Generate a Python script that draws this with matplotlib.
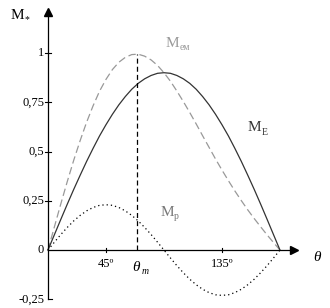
import matplotlib
matplotlib.use("Agg")
import matplotlib.pyplot as plt

# angle in degrees
theta = [0, 5, 10, 15, 20, 25, 30, 35, 40, 45, 50, 55, 60, 65, 70, 75, 80, 85, 90,
         95, 100, 105, 110, 115, 120, 125, 130, 135, 140, 145, 150, 155, 160, 165, 170, 175, 180]
m_e = [0, 0.078, 0.156, 0.233, 0.308, 0.38, 0.45, 0.516, 0.579, 0.636, 0.689, 0.737,
       0.779, 0.816, 0.846, 0.869, 0.886, 0.897, 0.9,
       0.897, 0.886, 0.869, 0.846, 0.816, 0.779, 0.737, 0.689, 0.636, 0.579, 0.516,
       0.45, 0.38, 0.308, 0.233, 0.156, 0.078, 0]
m_p = [0, 0.04, 0.079, 0.115, 0.148, 0.176, 0.199, 0.216, 0.227, 0.23, 0.227, 0.216,
       0.199, 0.176, 0.148, 0.115, 0.079, 0.04, 0,
       -0.04, -0.079, -0.115, -0.148, -0.176, -0.199, -0.216, -0.227, -0.23, -0.227,
       -0.216, -0.199, -0.176, -0.148, -0.115, -0.079, -0.04, 0]
m_em = [0, 0.118, 0.235, 0.348, 0.456, 0.556, 0.649, 0.732, 0.806, 0.866, 0.916, 0.953,
        0.978, 0.992, 0.994, 0.984, 0.965, 0.937, 0.9,
        0.857, 0.807, 0.754, 0.698, 0.64, 0.58, 0.521, 0.462, 0.406, 0.352, 0.3,
        0.251, 0.204, 0.16, 0.118, 0.077, 0.038, 0]
theta_m = 69
y_ticks = [-0.25, 0, 0.25, 0.5, 0.75, 1]
y_labels = ["-0,25", "0", "0,25", "0,5", "0,75", "1"]
x_ticks = [45, 135]
x_labels = ["45º", "135º"]

plt.rcParams['font.family'] = ['Liberation Serif', 'DejaVu Serif']

fig = plt.figure(figsize=(3.3, 3.08), dpi=100)
ax = fig.add_axes([0, 0, 1, 1])
ax.set_xlim(-37.2, 218.8)
ax.set_ylim(-0.294, 1.269)
ax.axis('off')

ax.plot(theta, m_em, color='#999999', lw=0.9, ls=(0, (6, 3)))
ax.plot(theta, m_e, color='#333333', lw=0.9)
ax.plot(theta, m_p, color='black', lw=0.9, ls=(0, (1, 2.4)))
ax.plot([theta_m, theta_m], [0, 0.994], color='black', lw=0.9, ls=(0, (4, 2.5)))

# axes with arrows
ax.plot([0, 0], [-0.25, 1.2], color='black', lw=0.9)
ax.plot([0], [1.21], marker='^', color='black', ms=6)
ax.plot([0, 190], [0, 0], color='black', lw=0.9)
ax.plot([191], [0], marker='>', color='black', ms=6)

for y, lab in zip(y_ticks, y_labels):
    if y != 0:
        ax.plot([-2.5, 2.5] if y != -0.25 else [0, 3], [y, y], color='black', lw=0.8)
    ax.text(-3, y, lab, ha='right', va='center', fontsize=9)
for x, lab in zip(x_ticks, x_labels):
    ax.plot([x, x], [-0.012, 0.012], color='black', lw=0.8)
    ax.text(x, -0.04, lab, ha='center', va='top', fontsize=9)

ax.text(209, -0.04, "θ", ha='center', va='center', fontsize=11, style='italic')
ax.text(theta_m - 1, -0.09, "θ", ha='center', va='center', fontsize=11, style='italic')
ax.text(theta_m + 4, -0.11, "m", ha='left', va='center', fontsize=7, style='italic')


def mlabel(x, y, sub, color):
    t = ax.text(x, y, "M", ha='left', va='center', fontsize=11, color=color)
    ax.annotate(sub, xy=(x, y), xytext=(10, -3), textcoords='offset points',
                ha='left', va='center', fontsize=7, color=color)
    return t


mlabel(-29, 1.19, "*", 'black')
mlabel(91, 1.05, "ем", '#999999')
mlabel(155, 0.62, "Е", '#333333')
mlabel(87, 0.19, "р", '#777777')

fig.savefig("out.png", dpi=100)
